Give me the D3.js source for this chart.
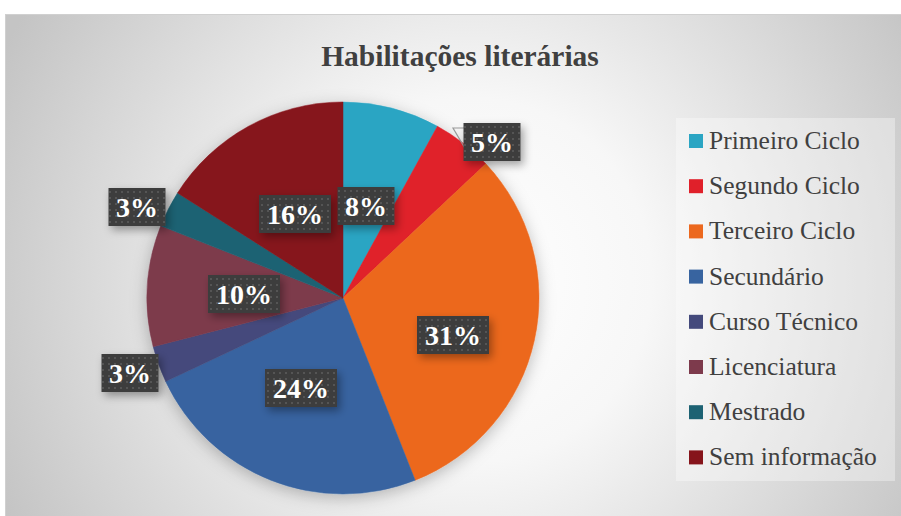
<!DOCTYPE html>
<head>
  <meta charset="utf-8">
  <script src="https://d3js.org/d3.v7.min.js"></script>
  <style>
    body { margin: 0; background: #fff; }
    .title { font-family: "Liberation Serif", "Times New Roman", serif; font-weight: bold; font-size: 29.5px; fill: #404040; }
    .legend text { font-family: "Liberation Serif", "Times New Roman", serif; font-size: 25.5px; fill: #404040; }
    .lbl text { font-family: "Liberation Serif", "Times New Roman", serif; font-weight: bold; font-size: 28px; fill: #fff; }
  </style>
</head>
<body>
  <div id="vis"></div>
  <script>
    var categories = ["Primeiro Ciclo", "Segundo Ciclo", "Terceiro Ciclo", "Secundário",
      "Curso Técnico", "Licenciatura", "Mestrado", "Sem informação"];
    var values = [8, 5, 31, 24, 3, 10, 3, 16];
    var colors = ["#2ba5c3", "#e0202a", "#ec681e", "#3864a0", "#444a7c", "#7d3a4c", "#1d6273", "#86141b"];
    // label centres (pixels)
    var labelPos = [[366, 206], [492, 142], [453, 335], [301, 388], [130, 373], [244, 294], [137, 207], [295, 214]];

    var W = 901, H = 516;
    var cx = 343, cy = 298, r = 196;

    var svg = d3.select("#vis").append("svg")
      .attr("width", W).attr("height", H);

    var defs = svg.append("defs");
    var grad = defs.append("radialGradient").attr("id", "bg")
      .attr("gradientUnits", "userSpaceOnUse")
      .attr("cx", 470).attr("cy", 280).attr("r", 520);
    grad.append("stop").attr("offset", "0%").attr("stop-color", "#ffffff");
    grad.append("stop").attr("offset", "35%").attr("stop-color", "#f7f7f7");
    grad.append("stop").attr("offset", "100%").attr("stop-color", "#c4c4c4");

    var pat = defs.append("pattern").attr("id", "dots")
      .attr("patternUnits", "userSpaceOnUse").attr("width", 6).attr("height", 6);
    pat.append("rect").attr("width", 6).attr("height", 6).attr("fill", "#3d3d3d");
    pat.append("rect").attr("x", 2).attr("y", 2).attr("width", 2).attr("height", 2).attr("fill", "#555");

    var sh = defs.append("filter").attr("id", "shadow")
      .attr("x", "-20%").attr("y", "-20%").attr("width", "150%").attr("height", "160%");
    sh.append("feDropShadow").attr("dx", 3).attr("dy", 4).attr("stdDeviation", 4)
      .attr("flood-color", "#000").attr("flood-opacity", 0.35);

    var psh = defs.append("filter").attr("id", "pshadow")
      .attr("x", "-20%").attr("y", "-20%").attr("width", "140%").attr("height", "140%");
    psh.append("feDropShadow").attr("dx", 0).attr("dy", 4).attr("stdDeviation", 8)
      .attr("flood-color", "#000").attr("flood-opacity", 0.25);

    // chart area
    svg.append("rect").attr("x", 5.5).attr("y", 14.5).attr("width", 900).attr("height", 510)
      .attr("fill", "url(#bg)").attr("stroke", "#d0d0d0");

    svg.append("text").attr("class", "title")
      .attr("x", 460).attr("y", 66).attr("text-anchor", "middle")
      .text("Habilitações literárias");

    ////////// pie //////////
    var pie = d3.pie().sort(null).value(function (d) { return d; });
    var arc = d3.arc().innerRadius(0).outerRadius(r);
    var arcs = pie(values);

    var g = svg.append("g").attr("transform", "translate(" + cx + "," + cy + ")");
    g.append("g").attr("filter", "url(#pshadow)")
      .selectAll("path").data(arcs).enter().append("path")
      .attr("d", arc)
      .attr("fill", function (d, i) { return colors[i]; })
      .attr("stroke", function (d, i) { return colors[i]; })
      .attr("stroke-width", 0.5);

    // leader for the 5% label
    svg.append("path")
      .attr("d", "M464,128 L453,128 L466,150")
      .attr("fill", "none").attr("stroke", "#9a9a9a").attr("stroke-width", 1.2);

    ////////// labels //////////
    var lbl = svg.append("g").attr("class", "lbl")
      .selectAll("g").data(values).enter().append("g")
      .attr("transform", function (d, i) { return "translate(" + labelPos[i][0] + "," + labelPos[i][1] + ")"; });

    lbl.each(function (d) {
      var gg = d3.select(this);
      var w = d >= 10 ? 72 : 57;
      gg.append("rect")
        .attr("x", -w / 2).attr("y", -19).attr("width", w).attr("height", 38)
        .attr("fill", "url(#dots)").attr("filter", "url(#shadow)");
      gg.append("text").attr("text-anchor", "middle").attr("y", 10)
        .text(d + "%");
    });

    ////////// legend //////////
    svg.append("rect").attr("x", 676).attr("y", 118).attr("width", 219).attr("height", 363)
      .attr("fill", "#ffffff").attr("opacity", 0.35);

    var leg = svg.append("g").attr("class", "legend")
      .selectAll("g").data(categories).enter().append("g")
      .attr("transform", function (d, i) { return "translate(689," + (141 + i * 45.2) + ")"; });
    leg.append("rect").attr("x", 0).attr("y", -7).attr("width", 14).attr("height", 14)
      .attr("fill", function (d, i) { return colors[i]; });
    leg.append("text").attr("x", 20).attr("y", 8).text(function (d) { return d; });
  </script>
</body>
